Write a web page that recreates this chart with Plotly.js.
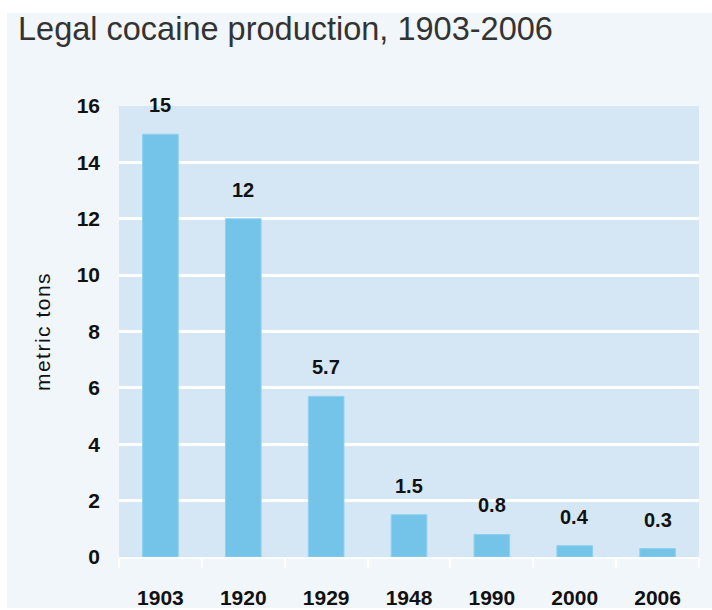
<!DOCTYPE html>
<html>
<head>
<meta charset="utf-8">
<script src="https://cdn.plot.ly/plotly-3.0.1.min.js"></script>
<style>
  html, body { margin: 0; padding: 0; background: #ffffff; }
  #chart { position: absolute; left: 7px; top: 0px; width: 705px; height: 608px; }
  #chart .ytitle { letter-spacing: 1.5px; }
</style>
</head>
<body>
<div id="chart"></div>
<script>
const years = ["1903", "1920", "1929", "1948", "1990", "2000", "2006"];
const tons = [15, 12, 5.7, 1.5, 0.8, 0.4, 0.3];
const valueLabels = ["15", "12", "5.7", "1.5", "0.8", "0.4", "0.3"];
const yTicks = [0, 2, 4, 6, 8, 10, 12, 14, 16];

const FONT = "'Liberation Sans', Arial, sans-serif";

const W = 705, H = 608, M = { l: 112, r: 13, t: 106, b: 51 };
const plotH = H - M.t - M.b;
const bandTop = 1 + M.t / plotH;          // top edge of the figure, in paper units
const bandBottom = 1 + (M.t - 13) / plotH; // bottom of the white top band

const trace = {
  type: "bar",
  x: years,
  y: tons,
  marker: { color: "#74c4ea", line: { color: "#8fd0ee", width: 1 } },
  hoverinfo: "x+y"
};

const annotations = years.map((yr, i) => ({
  x: i, y: tons[i], xref: "x", yref: "y",
  text: "<b>" + valueLabels[i] + "</b>",
  showarrow: false, yanchor: "bottom", yshift: 16,
  font: { family: FONT, size: 20, color: "#111111" }
}));

const layout = {
  width: W, height: H,
  paper_bgcolor: "#f1f6fa",
  plot_bgcolor: "#d5e7f4",
  margin: M,
  title: {
    text: "Legal cocaine production, 1903-2006",
    x: 0, xref: "container", xanchor: "left", y: 1, yref: "container", yanchor: "top",
    pad: { l: 11, t: 17 },
    font: { family: FONT, size: 32.5, color: "#333333" }
  },
  shapes: [{
    type: "rect", xref: "paper", yref: "paper", layer: "below",
    x0: -0.5, x1: 1.5, y0: bandBottom, y1: bandTop + 0.01,
    fillcolor: "#ffffff", line: { width: 0 }
  }],
  bargap: 0.57,
  showlegend: false,
  xaxis: {
    type: "category",
    range: [-0.5, 6.5],
    tickfont: { family: FONT, size: 21, color: "#111111", weight: "bold" },
    showgrid: false,
    zeroline: false,
    showline: true, linecolor: "#ffffff", linewidth: 2,
    ticks: "outside", tickson: "boundaries", ticklen: 9, tickcolor: "#ffffff", tickwidth: 2,
    ticklabelstandoff: 21
  },
  yaxis: {
    range: [0, 16],
    tickvals: yTicks,
    ticktext: yTicks.map(String),
    tickfont: { family: FONT, size: 21, color: "#111111", weight: "bold" },
    showgrid: true, gridcolor: "#ffffff", gridwidth: 3,
    zeroline: false,
    ticks: "", ticklabelstandoff: 18,
    title: { text: "metric tons", standoff: 20, font: { family: FONT, size: 21, color: "#111111" } }
  },
  annotations: annotations
};

Plotly.newPlot("chart", [trace], layout, { displayModeBar: false, staticPlot: true });
</script>
</body>
</html>
